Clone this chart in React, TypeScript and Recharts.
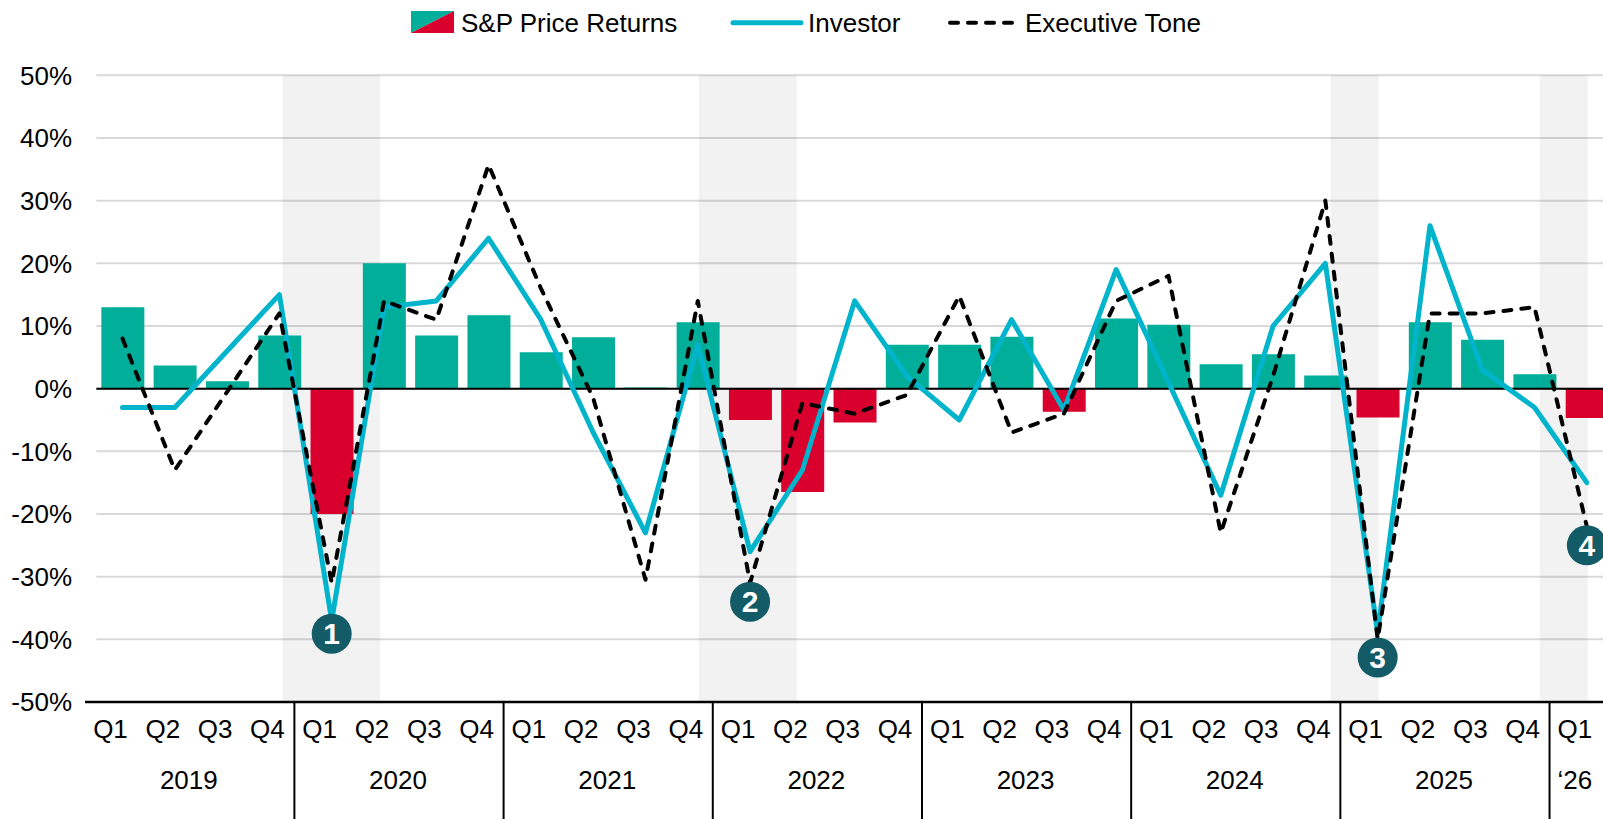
import React from 'react';
import {
  ComposedChart,
  Bar,
  Line,
  XAxis,
  YAxis,
  CartesianGrid,
  ReferenceArea,
  ReferenceLine,
  ReferenceDot,
  Cell,
} from 'recharts';

// quarterly categories, 2019 Q1 .. 2026 Q1
const quarterLabels = [
  'Q1', 'Q2', 'Q3', 'Q4',
  'Q1', 'Q2', 'Q3', 'Q4',
  'Q1', 'Q2', 'Q3', 'Q4',
  'Q1', 'Q2', 'Q3', 'Q4',
  'Q1', 'Q2', 'Q3', 'Q4',
  'Q1', 'Q2', 'Q3', 'Q4',
  'Q1', 'Q2', 'Q3', 'Q4',
  'Q1',
];
const yearLabels = ['2019', '2020', '2021', '2022', '2023', '2024', '2025', '\u201826'];

// values in %
const spReturns = [
  13.0, 3.7, 1.2, 8.5,
  -20.0, 20.0, 8.5, 11.7,
  5.8, 8.2, 0.2, 10.6,
  -5.0, -16.5, -5.4, 7.0,
  7.0, 8.3, -3.7, 11.2,
  10.2, 3.9, 5.5, 2.1,
  -4.6, 10.6, 7.8, 2.3,
  -4.7,
];
const investor = [
  -3, -3, 6, 15,
  -37, 13, 14, 24,
  11, -7, -23, 7,
  -26, -13, 14, 2,
  -5, 11, -3.4, 19,
  1, -17, 10, 20,
  -39, 26, 3, -3,
  -15,
];
const executiveTone = [
  8, -13, -0.5, 12,
  -31, 14, 11, 35.7,
  16, -1.5, -30.5, 14,
  -31, -2.3, -4, -1,
  14.8, -7, -4, 14,
  18, -23, 2, 30,
  -40, 12, 12, 13,
  -22,
];

const yTicks = [-50, -40, -30, -20, -10, 0, 10, 20, 30, 40, 50];

// grey highlight bands (in category index units)
const shadeFrom = [3.06, 11.02, 23.1, 27.1];
const shadeTo = [4.93, 12.89, 24.02, 28.02];

// numbered call-outs
const eventIdx = [4, 12, 24, 28];
const eventLevel = [-39.1, -34, -42.9, -25];
const eventLabel = ['1', '2', '3', '4'];

const GREEN = '#00AE9A';
const RED = '#D9002D';
const CYAN = '#00B4CC';
const TEAL = '#135B66';
const FONT = '"Liberation Sans", Arial, sans-serif';

const data = spReturns.map((sp, i) => ({
  idx: i,
  sp,
  investor: investor[i],
  exec: executiveTone[i],
}));

const XTick = (props: any) => {
  const { x, payload } = props;
  const i = payload.value as number;
  const lx = x - 12;
  return (
    <g>
      {i === 0 && <line x1={85} x2={1613} y1={702} y2={702} stroke="#000" strokeWidth={2.5} />}
      <text x={lx} y={738} textAnchor="middle" fontSize={26} fontFamily={FONT} fill="#000">
        {quarterLabels[i]}
      </text>
      {i % 4 === 3 && (
        <line x1={x + 15} x2={x + 15} y1={702} y2={819} stroke="#000" strokeWidth={2} />
      )}
      {(i % 4 === 1 || i === 28) && (
        <text
          x={i === 28 ? lx : x + 14}
          y={789}
          textAnchor="middle"
          fontSize={26}
          fontFamily={FONT}
          fill="#000"
        >
          {yearLabels[Math.floor(i / 4)]}
        </text>
      )}
    </g>
  );
};

const YTick = (props: any) => {
  const { y, payload } = props;
  return (
    <text x={72} y={y + 9.3} textAnchor="end" fontSize={26} fontFamily={FONT} fill="#000">
      {payload.value}%
    </text>
  );
};

const LegendBar = () => (
  <svg
    width={1603}
    height={50}
    style={{ position: 'absolute', left: 0, top: 0 }}
    fontFamily={FONT}
  >
    <polygon points="411,11 454,11 411,33" fill={GREEN} />
    <polygon points="454,11 454,33 411,33" fill={RED} />
    <text x={461} y={31.7} fontSize={26} fill="#000">S&amp;P Price Returns</text>
    <line x1={733} x2={801} y1={22.7} y2={22.7} stroke={CYAN} strokeWidth={5} strokeLinecap="round" />
    <text x={808} y={31.7} fontSize={26} fill="#000">Investor</text>
    <line
      x1={950}
      x2={1016}
      y1={22.7}
      y2={22.7}
      stroke="#000"
      strokeWidth={4}
      strokeDasharray="8 10"
      strokeLinecap="round"
    />
    <text x={1025} y={31.7} fontSize={26} fill="#000">Executive Tone</text>
  </svg>
);

export default function App() {
  return (
    <div
      style={{
        position: 'absolute',
        left: 0,
        top: 0,
        width: 1603,
        height: 819,
        overflow: 'hidden',
        background: '#fff',
        fontFamily: FONT,
      }}
    >
      <ComposedChart
        width={1613}
        height={819}
        data={data}
        margin={{ top: 75.3, right: 0, bottom: 0, left: 0 }}
      >
        <CartesianGrid vertical={false} stroke="#D9D9D9" strokeWidth={2} />
        {shadeFrom.map((from, k) => (
          <ReferenceArea
            key={`shade-${k}`}
            x1={from}
            x2={shadeTo[k]}
            y1={-50}
            y2={50}
            fill="#000"
            fillOpacity={0.05}
            stroke="none"
          />
        ))}
        <YAxis
          type="number"
          domain={[-50, 50]}
          ticks={yTicks}
          width={96.35}
          axisLine={false}
          tickLine={false}
          tick={<YTick />}
          interval={0}
        />
        <Bar dataKey="sp" barSize={43} isAnimationActive={false}>
          {data.map((d) => (
            <Cell key={d.idx} fill={d.sp >= 0 ? GREEN : RED} />
          ))}
        </Bar>
        <ReferenceLine y={0} stroke="#000" strokeWidth={2} />
        <Line
          type="linear"
          dataKey="investor"
          stroke={CYAN}
          strokeWidth={5}
          dot={false}
          strokeLinecap="round"
          strokeLinejoin="round"
          isAnimationActive={false}
        />
        <Line
          type="linear"
          dataKey="exec"
          stroke="#000"
          strokeWidth={4}
          strokeDasharray="8 10"
          dot={false}
          strokeLinecap="round"
          strokeLinejoin="round"
          isAnimationActive={false}
        />
        {eventIdx.map((xi, k) => (
          <ReferenceDot
            key={`ev-${k}`}
            x={xi}
            y={eventLevel[k]}
            r={20}
            fill={TEAL}
            stroke="none"
            label={{
              value: eventLabel[k],
              position: 'center',
              fill: '#fff',
              fontSize: 30,
              fontWeight: 700,
              fontFamily: FONT,
            }}
          />
        ))}
        <XAxis
          type="number"
          dataKey="idx"
          domain={[-0.5, 28.5]}
          ticks={data.map((d) => d.idx)}
          interval={0}
          height={117}
          axisLine={false}
          tickLine={false}
          tick={<XTick />}
        />
      </ComposedChart>
      <LegendBar />
    </div>
  );
}
